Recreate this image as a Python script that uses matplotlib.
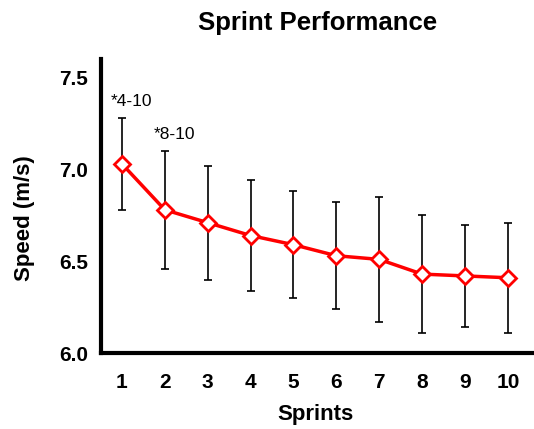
import numpy as np
import matplotlib.pyplot as plt

plt.rcParams['font.family'] = ['Liberation Sans', 'DejaVu Sans']

# Data
sprints = [1, 2, 3, 4, 5, 6, 7, 8, 9, 10]
speed = [7.03, 6.78, 6.71, 6.64, 6.59, 6.53, 6.51, 6.43, 6.42, 6.41]
sd = [0.25, 0.32, 0.31, 0.30, 0.29, 0.29, 0.34, 0.32, 0.28, 0.30]
notes = ['*4-10', '*8-10']


def main():
    fig = plt.figure(figsize=(5.34, 4.29), dpi=100)
    ax = fig.add_axes([0.189, 0.177, 0.811, 0.685])

    ax.errorbar(sprints, speed, yerr=sd, fmt='none', ecolor='black',
                elinewidth=1.2, capsize=3, capthick=1.2, zorder=1)
    ax.plot(sprints, speed, color='red', lw=2.5, marker='D', ms=8,
            mfc='white', mec='red', mew=2, zorder=2)

    # significance notes above the first two error bars
    for i, txt in enumerate(notes):
        ax.text(sprints[i] + 0.22, speed[i] + sd[i] + 0.05, txt, ha='center',
                va='bottom', fontsize=12.5)

    ax.set_xlim(0.51, 10.61)
    ax.set_ylim(6.0, 7.6)
    ax.set_xticks(sprints)
    ax.set_yticks([6.0, 6.5, 7.0, 7.5])
    ax.set_yticklabels(['6.0', '6.5', '7.0', '7.5'])
    ax.tick_params(length=0, labelsize=15)
    ax.tick_params(axis='x', pad=14)
    ax.tick_params(axis='y', pad=9)
    for lab in ax.get_xticklabels() + ax.get_yticklabels():
        lab.set_fontweight('bold')

    ax.spines['top'].set_visible(False)
    ax.spines['right'].set_visible(False)
    ax.spines['left'].set_linewidth(3)
    ax.spines['bottom'].set_linewidth(3)

    ax.set_xlabel('Sprints', fontsize=16, fontweight='bold')
    ax.set_ylabel('Speed (m/s)', fontsize=16, fontweight='bold')
    ax.xaxis.set_label_coords(0.495, -0.173)
    ax.yaxis.set_label_coords(-0.152, 0.46)
    ax.set_title('Sprint Performance', fontsize=18.5, fontweight='bold', pad=21)

    plt.savefig('out.png', dpi=100)


if __name__ == "__main__":
    main()
